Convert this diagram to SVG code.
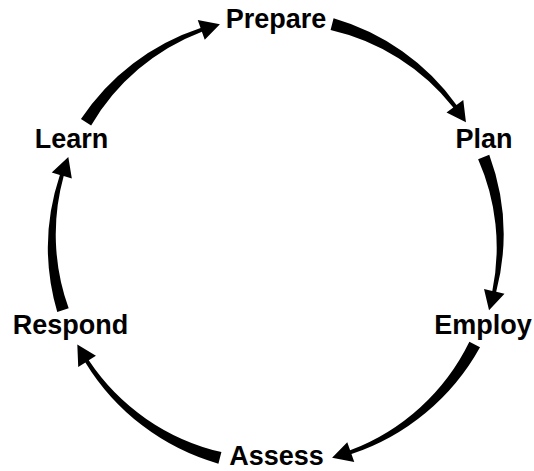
<svg xmlns="http://www.w3.org/2000/svg" xmlns:xlink="http://www.w3.org/1999/xlink" width="534" height="471" viewBox="0 0 534 471">
<style>
.lbl{font-family:"Liberation Sans",Arial,sans-serif;font-weight:bold;font-size:27px;fill:#000;text-anchor:middle}
.arc{fill:#000;stroke:none}
</style>
<defs>
<path id="a435" class="arc" d="M230,0 A230,230 0 0 1 176.87,140.69 L183.52,145.98 L162.48,154.19 L167.09,132.91 L173.74,138.2 A218,218 0 0 0 218,0 Z"/>
<path id="a40" class="arc" d="M230,0 A230,230 0 0 1 185.13,129.63 L192.09,134.5 L171.59,143.98 L174.89,122.46 L181.85,127.33 A218,218 0 0 0 218,0 Z"/>
<path id="a48" class="arc" d="M230,0 A230,230 0 0 1 165.29,154.13 L171.5,159.93 L149.89,166.46 L156.14,145.61 L162.36,151.4 A218,218 0 0 0 218,0 Z"/>
</defs>
<rect width="534" height="471" fill="#fff"/>
<g id="connectors">
<use id="learn-prepare" xlink:href="#a435" href="#a435" transform="translate(276,241) rotate(-148)"/>
<use id="prepare-plan" xlink:href="#a435" href="#a435" transform="translate(276,241) rotate(-75.5)"/>
<use id="plan-employ" xlink:href="#a40" href="#a40" transform="translate(276,241) rotate(-22)"/>
<use id="employ-assess" xlink:href="#a48" href="#a48" transform="translate(276,241) rotate(27.5)"/>
<use id="assess-respond" xlink:href="#a48" href="#a48" transform="translate(276,241) rotate(104.5)"/>
<use id="respond-learn" xlink:href="#a40" href="#a40" transform="translate(276,241) rotate(162)"/>
</g>
<g id="prepare"><text class="lbl" x="276" y="28">Prepare</text></g>
<g id="plan"><text class="lbl" x="484" y="148">Plan</text></g>
<g id="employ"><text class="lbl" x="483" y="334">Employ</text></g>
<g id="assess"><text class="lbl" x="276.5" y="465">Assess</text></g>
<g id="respond"><text class="lbl" x="70.5" y="334">Respond</text></g>
<g id="learn"><text class="lbl" x="71.5" y="148">Learn</text></g>
</svg>
